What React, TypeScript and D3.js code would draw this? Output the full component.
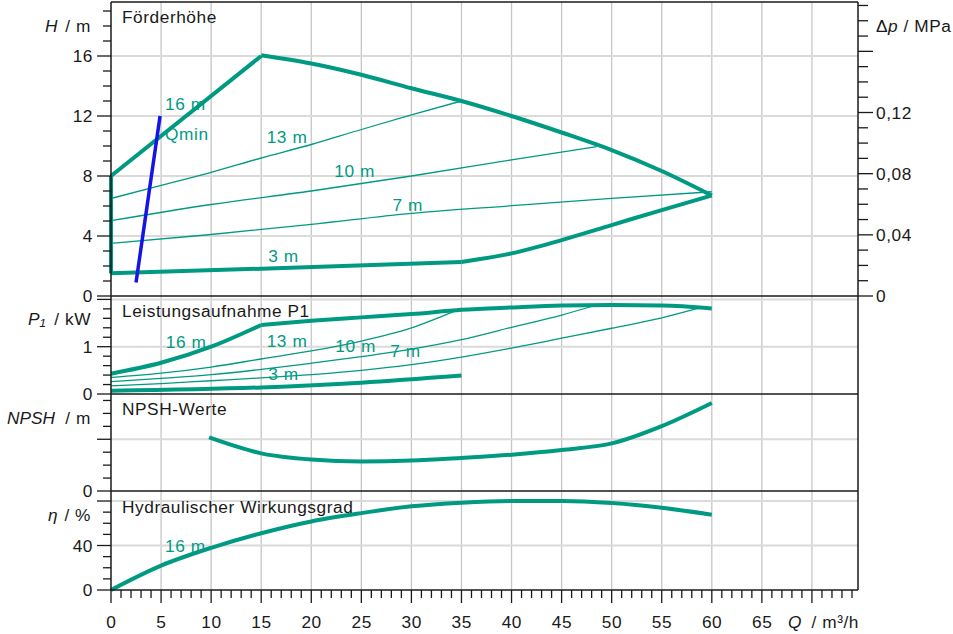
import React from 'react';
import * as d3 from 'd3';

// Förderhöhe (H / m)
const qH16 = [0, 15];
const hH16 = [8, 16];
const qHMax = [15, 20, 25, 30, 35, 40, 45, 50, 55, 60];
const hHMax = [16.05, 15.5, 14.75, 13.85, 13.0, 12.0, 10.9, 9.73, 8.33, 6.7];
const qH3 = [0, 15, 35];
const hH3 = [1.51, 1.82, 2.27];
const qHMin = [35, 40, 45, 50, 55, 60];
const hHMin = [2.27, 2.84, 3.73, 4.73, 5.73, 6.7];
const qH13 = [0, 5, 10, 15, 20, 25, 30, 35];
const hH13 = [6.5, 7.37, 8.24, 9.2, 10.1, 11.1, 12.07, 13.0];
const qH10 = [0, 10, 20, 30, 40, 48.5];
const hH10 = [5.02, 6.1, 7.0, 8.0, 9.07, 9.96];
const qH7 = [0, 10, 20, 30, 40, 50, 60];
const hH7 = [3.51, 4.1, 4.78, 5.51, 6.02, 6.51, 6.95];
const qQmin = [2.5, 4.9];
const hQmin = [0.9, 12.0];

// Leistungsaufnahme P1 (kW)
const qP16 = [0, 5, 10, 15];
const pP16 = [0.43, 0.66, 1.0, 1.46];
const qPMax = [15, 20, 25, 30, 35, 40, 45, 50, 55, 60];
const pPMax = [1.46, 1.55, 1.62, 1.69, 1.78, 1.83, 1.87, 1.88, 1.87, 1.81];
const qP13 = [0, 5, 10, 15, 20, 25, 30, 34.5];
const pP13 = [0.35, 0.44, 0.57, 0.74, 0.91, 1.12, 1.4, 1.77];
const qP10 = [0, 5, 10, 15, 20, 25, 30, 35, 40, 45, 48];
const pP10 = [0.26, 0.33, 0.41, 0.52, 0.65, 0.79, 0.95, 1.15, 1.41, 1.67, 1.85];
const qP7 = [0, 5, 10, 15, 20, 25, 30, 35, 40, 45, 50, 55, 58.6];
const pP7 = [0.17, 0.22, 0.28, 0.34, 0.41, 0.5, 0.62, 0.78, 0.97, 1.18, 1.39, 1.61, 1.81];
const qP3 = [0, 15, 25, 35];
const pP3 = [0.07, 0.14, 0.24, 0.39];

// NPSH (m)
const qN = [9.8, 15, 20, 25, 30, 35, 40, 45, 50, 55, 60];
const nN = [4.14, 2.91, 2.43, 2.28, 2.35, 2.56, 2.81, 3.17, 3.68, 5.02, 6.81];

// Hydraulischer Wirkungsgrad (%)
const qE = [0, 5, 10, 15, 20, 25, 30, 35, 40, 45, 50, 55, 60];
const eE = [0, 21.9, 37.9, 51, 61.6, 69.1, 75.2, 78.5, 80, 80, 78.2, 74, 67.7];

// tick labels
const qTickLabels = [0, 5, 10, 15, 20, 25, 30, 35, 40, 45, 50, 55, 60, 65];
const hTickLabels = [0, 4, 8, 12, 16];
const dpTickLabels = [0, 0.04, 0.08, 0.12];

// curve labels: [text, Q, value]
const headLabels: [string, number, number][] = [
  ['16 m', 5.4, 12.4], ['Qmin', 5.4, 10.4], ['13 m', 15.55, 10.18],
  ['10 m', 22.3, 7.91], ['7 m', 28.1, 5.69], ['3 m', 15.7, 2.29],
];
const powerLabels: [string, number, number][] = [
  ['16 m', 5.47, 0.98], ['13 m', 15.55, 1.0], ['10 m', 22.4, 0.89],
  ['7 m', 27.9, 0.78], ['3 m', 15.7, 0.3],
];
const effLabels: [string, number, number][] = [['16 m', 5.4, 34.6]];

const TEAL = '#009a82';
const FONT = '"Liberation Sans", Arial, sans-serif';
const INK = '#1a1a1a';

const x = d3.scaleLinear().domain([0, 74.6]).range([111, 858]);
const yH = d3.scaleLinear().domain([0, 19.6]).range([296, 2]);
const yDp = d3.scaleLinear().domain([0, 19.6 / 101.94]).range([296, 2]);
const yP = d3.scaleLinear().domain([0, 2.072]).range([394, 296]);
const yN = d3.scaleLinear().domain([0, 7.5]).range([491, 394]);
const yE = d3.scaleLinear().domain([0, 89]).range([590, 491]);

const fmtDp = d3.formatLocale({ decimal: ',', thousands: '.', grouping: [3], currency: ['', '€'] }).format('.2f');

const zip = (a: number[], b: number[]) => a.map((v, i) => [v, b[i]] as [number, number]);

const path = (qs: number[], vs: number[], y: d3.ScaleLinear<number, number>, curve = d3.curveMonotoneX) =>
  d3.line<[number, number]>().x((d) => x(d[0])).y((d) => y(d[1])).curve(curve)(zip(qs, vs)) || '';

const Curve = ({ d, w = 4, color = TEAL }: { d: string; w?: number; color?: string }) => (
  <path d={d} fill="none" stroke={color} strokeWidth={w} strokeLinejoin="round" />
);

const App: React.FC = () => {
  const left = x(0);
  const right = x.range()[1];
  const vGrid = d3.range(5, 71, 5);

  const leftTicks = (
    y: d3.ScaleLinear<number, number>,
    values: number[],
    isMajor: (v: number) => boolean,
    labels: number[],
    key: string
  ) =>
    values.map((v) => {
      const major = isMajor(v);
      const yy = y(v);
      return (
        <g key={key + v}>
          <line x1={left - (major ? 14 : 8)} x2={left} y1={yy} y2={yy} stroke={INK} strokeWidth={1.3} />
          {labels.some((l) => Math.abs(l - v) < 1e-6) && (
            <text x={93} y={yy} dy="0.35em" textAnchor="end">{d3.format('~g')(v)}</text>
          )}
        </g>
      );
    });

  return (
    <svg
      width={953}
      height={634}
      style={{ position: 'absolute', left: 0, top: 0, background: '#fff' }}
      fontFamily={FONT}
      fontSize={17.3}
      letterSpacing={0.55}
      fill={INK}
    >
      <rect width={953} height={634} fill="#fff" />

      {/* grid */}
      {vGrid.map((q) => (
        <line key={'vg' + q} x1={x(q)} x2={x(q)} y1={2} y2={590} stroke="#c6c6c6" strokeWidth={1.3} />
      ))}
      {[4, 8, 12, 16].map((v) => (
        <line key={'hg' + v} x1={left} x2={right} y1={yH(v)} y2={yH(v)} stroke="#dadada" strokeWidth={2} />
      ))}
      {[1, 2].map((v) => (
        <line key={'pg' + v} x1={left} x2={right} y1={yP(v)} y2={yP(v)} stroke="#dadada" strokeWidth={2} />
      ))}
      <line x1={left} x2={right} y1={yN(4)} y2={yN(4)} stroke="#dadada" strokeWidth={2} />
      {[40, 80].map((v) => (
        <line key={'eg' + v} x1={left} x2={right} y1={yE(v)} y2={yE(v)} stroke="#dadada" strokeWidth={2} />
      ))}

      {/* Förderhöhe */}
      <Curve d={path(qH13, hH13, yH)} w={1.3} />
      <Curve d={path(qH10, hH10, yH)} w={1.3} />
      <Curve d={path(qH7, hH7, yH)} w={1.3} />
      <Curve d={path([0, 0], [hH3[0], hH16[0]], yH, d3.curveLinear)} />
      <Curve d={path(qH16, hH16, yH, d3.curveLinear)} />
      <Curve d={path(qHMax, hHMax, yH)} />
      <Curve d={path(qH3, hH3, yH, d3.curveLinear)} />
      <Curve d={path(qHMin, hHMin, yH)} />
      <Curve d={path(qQmin, hQmin, yH, d3.curveLinear)} w={3.5} color="#1414e6" />

      {/* Leistungsaufnahme */}
      <Curve d={path(qP13, pP13, yP)} w={1.3} />
      <Curve d={path(qP10, pP10, yP)} w={1.3} />
      <Curve d={path(qP7, pP7, yP)} w={1.3} />
      <Curve d={path(qP16, pP16, yP)} />
      <Curve d={path(qPMax, pPMax, yP)} />
      <Curve d={path(qP3, pP3, yP)} />

      {/* NPSH */}
      <Curve d={path(qN, nN, yN)} />

      {/* Wirkungsgrad */}
      <Curve d={path(qE, eE, yE)} />

      {/* frame */}
      <g stroke={INK} strokeWidth={1.5}>
        <line x1={left} x2={left} y1={2} y2={590} />
        <line x1={right} x2={right} y1={2} y2={590} />
        {[2, 296, 394, 491, 590].map((yy) => (
          <line key={'f' + yy} x1={left} x2={right} y1={yy} y2={yy} />
        ))}
      </g>

      {/* left axes */}
      {leftTicks(yH, d3.range(0, 20), (v) => v % 4 === 0, hTickLabels, 'h')}
      {leftTicks(yP, d3.range(0, 11).map((i) => i / 5), (v) => Math.abs(v - Math.round(v)) < 1e-6, [0, 1], 'p')}
      {leftTicks(yN, d3.range(0, 8), (v) => v % 4 === 0, [0], 'n')}
      {leftTicks(yE, d3.range(0, 81, 10), (v) => v % 40 === 0, [0, 40], 'e')}

      {/* right axis Δp */}
      {d3.range(0, 20).map((i) => {
        const v = i / 100;
        const major = i % 4 === 0;
        const yy = yDp(v);
        return (
          <g key={'dp' + i}>
            <line x1={right} x2={right + (major ? 15 : 10)} y1={yy} y2={yy} stroke={INK} strokeWidth={1.3} />
            {dpTickLabels.some((l) => Math.abs(l - v) < 1e-9) && (
              <text x={876} y={yy} dy="0.35em">{v === 0 ? '0' : fmtDp(v)}</text>
            )}
          </g>
        );
      })}

      {/* bottom axis */}
      {d3.range(0, 75).map((q) => {
        const major = q % 5 === 0;
        return (
          <line key={'xt' + q} x1={x(q)} x2={x(q)} y1={590} y2={590 + (major ? 13 : 8)} stroke={INK} strokeWidth={1.3} />
        );
      })}
      {qTickLabels.map((q) => (
        <text key={'xl' + q} x={x(q) + 0.3} y={628} textAnchor="middle">{q}</text>
      ))}

      {/* axis titles */}
      <text x={45} y={32} fontStyle="italic">H</text>
      <text x={91} y={32} textAnchor="end">/ m</text>
      <text x={28} y={325} fontStyle="italic">P₁</text>
      <text x={91} y={325} textAnchor="end">/ kW</text>
      <text x={7} y={423.5} fontStyle="italic" letterSpacing={0}>NPSH</text>
      <text x={91} y={423.5} textAnchor="end">/ m</text>
      <text x={48} y={521} fontStyle="italic">η</text>
      <text x={91} y={521} textAnchor="end">/ %</text>
      <text x={876} y={32}>Δ<tspan fontStyle="italic">p</tspan> / MPa</text>
      <text x={788} y={628} fontStyle="italic">Q</text>
      <text x={859} y={628} textAnchor="end">/ m³/h</text>

      {/* panel titles */}
      <text x={122} y={23}>Förderhöhe</text>
      <text x={122} y={317}>Leistungsaufnahme P1</text>
      <text x={122} y={415}>NPSH-Werte</text>
      <text x={122} y={512.5}>Hydraulischer Wirkungsgrad</text>

      {/* curve labels */}
      <g fill={TEAL}>
        {headLabels.map(([t, q, v]) => (
          <text key={'hl' + t} x={x(q)} y={yH(v)}>{t}</text>
        ))}
        {powerLabels.map(([t, q, v]) => (
          <text key={'pl' + t} x={x(q)} y={yP(v)}>{t}</text>
        ))}
        {effLabels.map(([t, q, v]) => (
          <text key={'el' + t} x={x(q)} y={yE(v)}>{t}</text>
        ))}
      </g>
    </svg>
  );
};

export default App;
